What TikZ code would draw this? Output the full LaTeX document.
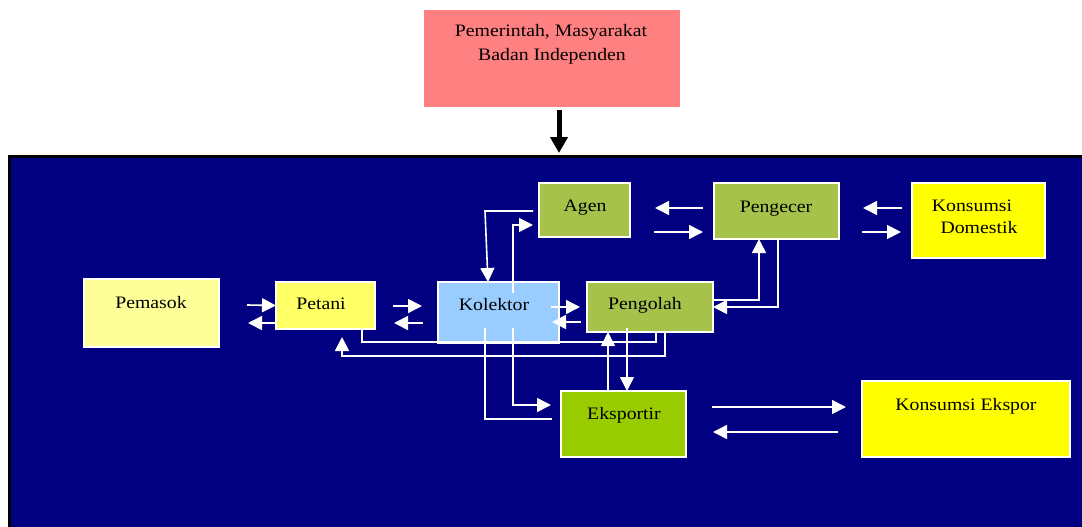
\documentclass[tikz,border=0pt]{standalone}
\usepackage{fontspec}
\setmainfont{Liberation Serif}[FakeStretch=1.13]
\usetikzlibrary{arrows.meta}

\definecolor{panel}{RGB}{0,0,128}
\definecolor{pinkbox}{RGB}{255,128,128}
\definecolor{paleyellow}{RGB}{255,255,153}
\definecolor{midyellow}{RGB}{255,255,102}
\definecolor{brightyellow}{RGB}{255,255,0}
\definecolor{skyblue}{RGB}{153,204,255}
\definecolor{olivebox}{RGB}{166,194,74}
\definecolor{limebox}{RGB}{153,204,0}

\begin{document}
\begin{tikzpicture}[x=1pt,y=-1pt,
  box/.style={draw=white, line width=1.5pt, anchor=north west, inner sep=0pt, outer sep=0pt},
  lbl/.style={anchor=base, inner sep=0pt, font=\fontsize{17.5}{22}\selectfont, text=black},
  flow/.style={draw=white, line width=1.6pt, -{Triangle[length=14pt,width=14pt]}},
  wire/.style={draw=white, line width=1.6pt},
]
\useasboundingbox (0,0) rectangle (1082,527);
\fill[white] (0,0) rectangle (1082,527);

% oversight body above the chain
\node[box, draw=none, fill=pinkbox, minimum width=256pt, minimum height=97pt] (gov) at (424,10) {};
\node[lbl] (govA) at (551,37) {Pemerintah, Masyarakat};
\node[lbl] (govB) at (552,60) {Badan Independen};
\draw[black, line width=5pt, -{Triangle[length=16pt,width=17pt]}]
  ([xshift=7pt,yshift=-3pt]gov.south) -- (559,153);

% supply chain panel
\fill[panel] (9,157) rectangle (1082,527);
\draw[black, line width=2.5pt] (9.5,527) -- (9.5,156.5) -- (1082,156.5);

% actors
\node[box, fill=paleyellow, minimum width=135pt, minimum height=68pt] (pemasok) at (84,279) {};
\node[box, fill=midyellow, minimum width=99pt, minimum height=47pt] (petani) at (276,282) {};
\node[box, fill=skyblue, minimum width=121pt, minimum height=61pt] (kolektor) at (438,282) {};
\node[box, fill=olivebox, minimum width=91pt, minimum height=54pt] (agen) at (539,183) {};
\node[box, fill=olivebox, minimum width=126pt, minimum height=50pt] (pengolah) at (587,282) {};
\node[box, fill=olivebox, minimum width=125pt, minimum height=56pt] (pengecer) at (714,183) {};
\node[box, fill=brightyellow, minimum width=133pt, minimum height=75pt] (domestik) at (912,183) {};
\node[box, fill=limebox, minimum width=125pt, minimum height=66pt] (eksportir) at (561,391) {};
\node[box, fill=brightyellow, minimum width=208pt, minimum height=76pt] (ekspor) at (862,381) {};

\node[lbl] (pemasokT) at (151,308) {Pemasok};
\node[lbl] (petaniT) at (321,309) {Petani};
\node[lbl] (kolektorT) at (494,310) {Kolektor};
\node[lbl] (agenT) at (585,211) {Agen};
\node[lbl] (pengolahT) at (645,309) {Pengolah};
\node[lbl] (pengecerT) at (776,212) {Pengecer};
\node[lbl] (domestikA) at (972,211) {Konsumsi};
\node[lbl] (domestikB) at (979,233) {Domestik};
\node[lbl] (eksportirT) at (624,419) {Eksportir};
\node[lbl] (eksporT) at (966,410) {Konsumsi Ekspor};

% two-way flows between neighbours
\draw[flow] (247,305) -- (petani.west);
\draw[flow] (276,323) -- (248,323);
\draw[flow] (393,306) -- (422,306);
\draw[flow] (423,323) -- (394,323);
\draw[flow] (551,307) -- (580,307);
\draw[flow] (581,322) -- (552,322);
\draw[flow] (703,208) -- (655,208);
\draw[flow] (654,232) -- (703,232);
\draw[flow] (902,208) -- (863,208);
\draw[flow] (862,232) -- (901,232);
\draw[flow] (712,407) -- (846,407);
\draw[flow] (838,432) -- (713,432);

% Kolektor and Agen
\draw[flow] (513,293) |- (533,225);
\draw[flow] (533,211) -- (485,211) -- (488,282);

% Pengolah and Pengecer
\draw[flow] (713,300) -| (759,239);
\draw[flow] (778,239) |- (713,307);

% Petani and Pengolah
\draw[wire] (362,329) |- (656,342) -- (656,332);
\draw[flow] (665,332) |- (342,356) -- (342,337);

% Pengolah and Eksportir
\draw[flow] (608,391) -- (608,332);
\draw[flow] (627,328) -- (627,391);

% Kolektor and Eksportir
\draw[flow] (513,328) |- (551,405);
\draw[wire] (485,328) |- (552,419);
\end{tikzpicture}
\end{document}
